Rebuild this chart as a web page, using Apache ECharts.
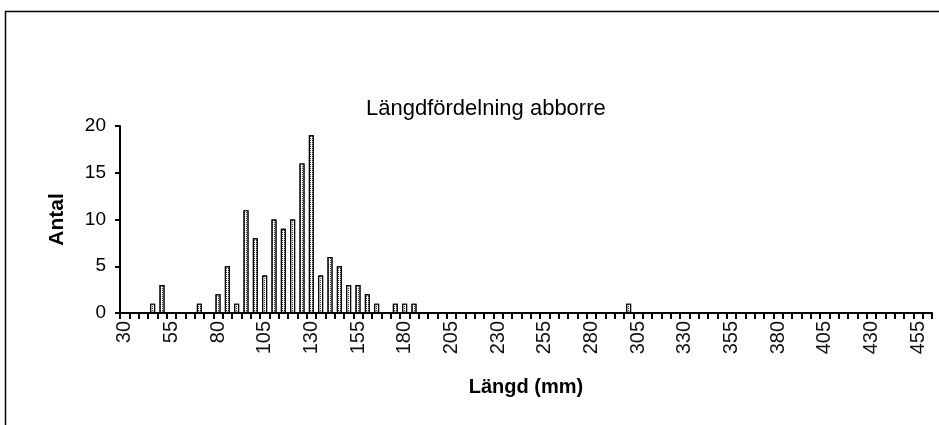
<!DOCTYPE html>
<html><head><meta charset="utf-8">
<script src="https://cdn.jsdelivr.net/npm/echarts@6/dist/echarts.min.js"></script>
<style>html,body{margin:0;padding:0;background:#fff}#c{width:939px;height:425px}</style>
</head><body><div id="c"></div>
<script>
var title = 'Längdfördelning abborre';
var xName = 'Längd (mm)';
var yName = 'Antal';
var categories = ['30','35','40','45','50','55','60','65','70','75','80','85','90','95','100','105','110','115','120','125','130','135','140','145','150','155','160','165','170','175','180','185','190','195','200','205','210','215','220','225','230','235','240','245','250','255','260','265','270','275','280','285','290','295','300','305','310','315','320','325','330','335','340','345','350','355','360','365','370','375','380','385','390','395','400','405','410','415','420','425','430','435','440','445','450','455','460'];
var counts = [0,0,0,1,3,0,0,0,1,0,2,5,1,11,8,4,10,9,10,16,19,4,6,5,3,3,2,1,0,1,1,1,0,0,0,0,0,0,0,0,0,0,0,0,0,0,0,0,0,0,0,0,0,0,1,0,0,0,0,0,0,0,0,0,0,0,0,0,0,0,0,0,0,0,0,0,0,0,0,0,0,0,0,0,0,0,0];
var yTicks = [0,5,10,15,20];

var chart = echarts.init(document.getElementById('c'), null, {renderer:'canvas'});
var font = 'Liberation Sans, Arial, sans-serif';
chart.setOption({
  animation: false,
  backgroundColor: '#fff',
  graphic: [{type:'rect', shape:{x:5.5, y:11.5, width:2000, height:2000}, style:{fill:'none', stroke:'#000', lineWidth:1.5}, silent:true}],
  title: {text: title, left: 361, top: 93, textStyle:{fontFamily:font, fontSize:22, fontWeight:'normal', color:'#000'}},
  grid: {left:120, right:7, top:126, bottom:112, containLabel:false},
  xAxis: {
    type:'category', data: categories, boundaryGap:true,
    name: xName, nameLocation:'middle', nameGap:64,
    nameTextStyle:{fontFamily:font, fontSize:20, fontWeight:'bold', color:'#000'},
    axisLine:{lineStyle:{color:'#000', width:2}},
    axisTick:{show:true, interval:0, length:6, lineStyle:{color:'#000', width:2}},
    axisLabel:{interval:4, rotate:90, margin:8, fontFamily:font, fontSize:20, color:'#111'},
    splitLine:{show:false}
  },
  yAxis: {
    type:'value', min:0, max:20, interval:5,
    name: yName, nameLocation:'middle', nameGap:52,
    nameTextStyle:{fontFamily:font, fontSize:21, fontWeight:'bold', color:'#000'},
    axisLine:{show:true, lineStyle:{color:'#000', width:2}},
    axisTick:{show:true, length:5, lineStyle:{color:'#000', width:2}},
    axisLabel:{margin:14, fontFamily:font, fontSize:19, color:'#000', formatter:function(v){return yTicks.indexOf(v)>=0?String(v):'';}},
    splitLine:{show:false}
  },
  series: [{
    type:'bar', data: counts, barWidth:5,
    itemStyle:{color:'#fff', borderColor:'#000', borderWidth:1.2,
      decal:{symbol:'rect', symbolSize:1, color:'#333', backgroundColor:'#fff', dashArrayX:[1,1], dashArrayY:[1,1], rotation:0}}
  }]
});
</script></body></html>
